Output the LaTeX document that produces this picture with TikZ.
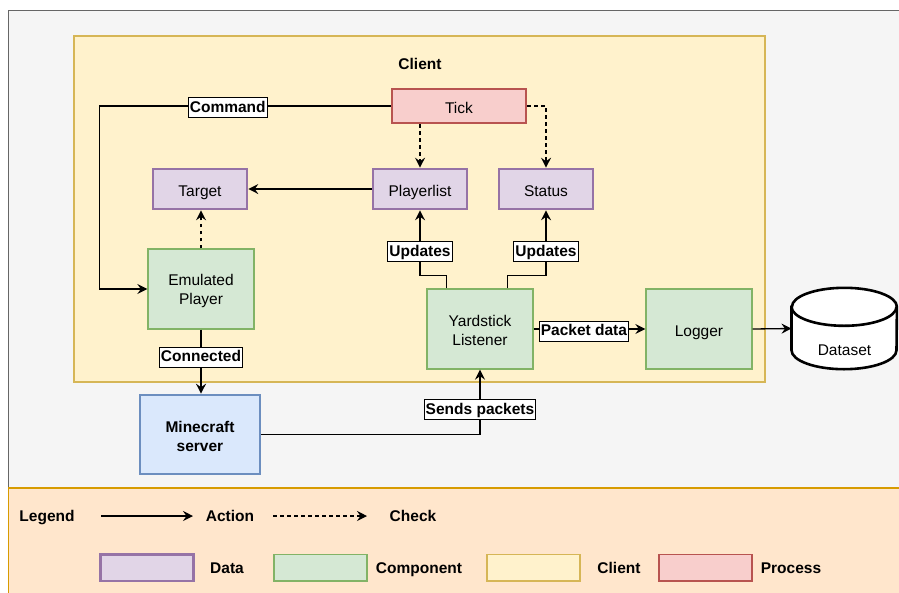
\documentclass[tikz,border=0pt]{standalone}
\usepackage{fontspec}
\setmainfont{Liberation Sans}
\usetikzlibrary{arrows.meta}

\definecolor{bggray}{HTML}{F5F5F5}
\definecolor{bgline}{HTML}{666666}
\definecolor{legfill}{HTML}{FFE6CC}
\definecolor{legline}{HTML}{D79B00}
\definecolor{clifill}{HTML}{FFF2CC}
\definecolor{cliline}{HTML}{D6B656}
\definecolor{datafill}{HTML}{E1D5E7}
\definecolor{dataline}{HTML}{9673A6}
\definecolor{compfill}{HTML}{D5E8D4}
\definecolor{compline}{HTML}{82B366}
\definecolor{procfill}{HTML}{F8CECC}
\definecolor{procline}{HTML}{B85450}
\definecolor{srvfill}{HTML}{DAE8FC}
\definecolor{srvline}{HTML}{6C8EBF}

\newcommand{\basefont}{\fontsize{15.5}{19}\selectfont}

\begin{document}
\begin{tikzpicture}[x=1pt,y=-1pt,
  every node/.style={font=\basefont, align=center, inner sep=0pt},
  boxtext/.style={text height=14pt, text depth=0pt},
  freetext/.style={text height=11pt, text depth=0pt, font=\bfseries\basefont},
  databox/.style={draw=dataline, fill=datafill, line width=2.6pt,
    minimum width=94pt, minimum height=40pt, boxtext},
  compbox/.style={draw=compline, fill=compfill, line width=1.3pt,
    minimum width=106pt, minimum height=80pt, boxtext},
  procbox/.style={draw=procline, fill=procfill, line width=2.6pt,
    minimum width=134pt, minimum height=34pt, boxtext},
  srvbox/.style={draw=srvline, fill=srvfill, line width=2.6pt,
    minimum width=120pt, minimum height=79pt},
  clibox/.style={draw=cliline, fill=clifill, line width=2.6pt},
  keysize/.style={minimum width=93pt, minimum height=26.5pt},
  conn/.style={line width=1.3pt, -{Stealth[length=10pt,width=10pt,inset=3.5pt]}},
  chk/.style={conn, dash pattern=on 3.5pt off 3.5pt},
  lbl/.style={draw, fill=white, line width=1pt, inner xsep=1.5pt, inner ysep=2pt,
    text height=12.5pt, text depth=3.5pt, font=\bfseries\basefont}
]
\useasboundingbox (0,0) rectangle (899,592);
\clip (0,0) rectangle (899,592);

% background panels
\draw[fill=bggray, draw=bgline, line width=1.3pt] (8.5,10.5) rectangle (920,488);
\draw[fill=legfill, draw=legline, line width=1.3pt] (8.5,488) rectangle (920,620);

% client frame
\node[clibox, minimum width=691pt, minimum height=346pt] (client) at (419.5,209) {};
\node[freetext] (clienttitle) at (420,63.5) {Client};

% blocks
\node[procbox] (tick) at (459,106) {Tick};
\node[databox] (tgt) at (200,189) {Target};
\node[databox] (plist) at (420,189) {Playerlist};
\node[databox] (stat) at (546,189) {Status};
\node[compbox] (emu) at (201,289) {};
\node (emutext) at ([yshift=-1.8pt]emu.center) {Emulated\\Player};
\node[compbox] (yard) at (480,329) {};
\node (yardtext) at ([yshift=-1.2pt]yard.center) {Yardstick\\Listener};
\node[compbox] (logr) at (699,329) {Logger};
\node[srvbox] (mc) at (200,434.5) {};
\node[font=\bfseries\basefont] (mctext) at ([yshift=-1.7pt]mc.center) {Minecraft\\server};

% dataset cylinder
\node[minimum width=105pt, minimum height=81pt] (ds) at (844.2,328.5) {};
\draw[line width=2.6pt, fill=white] ([yshift=-19pt]ds.north west) -- ([yshift=19pt]ds.south west)
  arc[start angle=180, end angle=360, x radius=52.5pt, y radius=19pt]
  -- ([yshift=-19pt]ds.north east)
  arc[start angle=0, end angle=180, x radius=52.5pt, y radius=19pt] -- cycle;
\draw[line width=2.6pt] ([yshift=-19pt]ds.north west)
  arc[start angle=180, end angle=360, x radius=52.5pt, y radius=19pt];
\node[boxtext] (dstext) at (844.5,348) {Dataset};

% connectors
\draw[conn] (tick.west) -- node[lbl, pos=0.56, yshift=-1.5pt] {Command} ++(-291,0) |- (emu.west);
\draw[chk] (tick.south -| plist.north) -- (plist.north);
\draw[chk] (tick.east) -| (stat.north);
\draw[conn] (plist.west) -- (tgt.east);
\draw[chk] (emu.north) -- (emu.north |- tgt.south);
\draw[conn] (emu.south) -- node[lbl, pos=0.43] {Connected} (emu.south |- mc.north);
\draw[conn] (mc.east) -| node[lbl, pos=0.69] {Sends packets} (yard.south);
\draw[conn] ([xshift=20pt]yard.north west) -- ++(0,-13) -| node[lbl, pos=0.68] {Updates} (plist.south);
\draw[conn] ([xshift=-26pt]yard.north east) -- ++(0,-13) -| node[lbl, pos=0.68] {Updates} (stat.south);
\draw[conn] (yard.east) -- node[lbl, pos=0.45, yshift=-2pt] {Packet data} (logr.west);
\draw[conn] (logr.east) -- (ds.west);

% legend
\node[freetext] (legtitle) at (47,515.5) {Legend};
\coordinate (actA) at (101,516);
\coordinate (actB) at (193,516);
\draw[conn] (actA) -- (actB);
\node[freetext] (acttext) at (230,515.5) {Action};
\coordinate (chkA) at (273,516);
\coordinate (chkB) at (367,516);
\draw[chk] (chkA) -- (chkB);
\node[freetext] (chktext) at (413,515.5) {Check};

\node[databox, keysize] (kdata) at (147,567.7) {};
\node[freetext] (kdatatext) at (227,567.8) {Data};
\node[compbox, keysize] (kcomp) at (320.5,567.7) {};
\node[freetext] (kcomptext) at (419,567.8) {Component};
\node[clibox, line width=1.3pt, keysize] (kcli) at (533.5,567.7) {};
\node[freetext] (kclitext) at (619,567.8) {Client};
\node[procbox, line width=1.3pt, keysize] (kproc) at (705.5,567.7) {};
\node[freetext] (kproctext) at (791,567.8) {Process};
\end{tikzpicture}
\end{document}
